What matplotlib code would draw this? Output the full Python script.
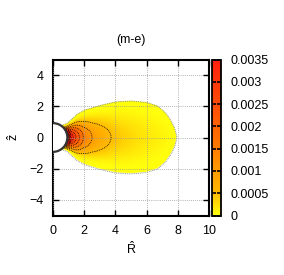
import numpy as np
import matplotlib
matplotlib.use("Agg")
import matplotlib.pyplot as plt
from matplotlib.colors import LinearSegmentedColormap
from matplotlib.patches import Circle

plt.rcParams['font.family'] = ['Liberation Sans', 'DejaVu Sans']
plt.rcParams['mathtext.fontset'] = 'custom'
plt.rcParams['mathtext.rm'] = 'Liberation Sans'
plt.rcParams['mathtext.it'] = 'Liberation Sans'

title = "(m-e)"
xticks = [0, 2, 4, 6, 8, 10]
yticks = [-4, -2, 0, 2, 4]
cbar_ticks = [0, 0.0005, 0.001, 0.0015, 0.002, 0.0025, 0.003, 0.0035]
cbar_labels = ["0", "0.0005", "0.001", "0.0015", "0.002", "0.0025", "0.003", "0.0035"]
contour_levels = [0.0005, 0.001, 0.0015, 0.002, 0.0025, 0.003, 0.0035,
                  0.004, 0.0045, 0.005, 0.0055, 0.006]

# Outer boundary of the distribution: half-height vs R
bound_R = [0.5, 0.9, 1.5, 2.0, 3.0, 4.0, 5.0, 6.0, 6.7, 7.2, 7.55, 7.8, 7.95]
bound_h = [0.75, 0.9, 1.45, 1.75, 2.05, 2.28, 2.34, 2.25, 2.02, 1.6, 1.1, 0.6, 0.0]

eq_R = [0.5, 0.92, 1.0, 1.15, 1.3, 1.47, 1.69, 1.94, 2.5, 3.0, 3.72, 4.5, 5.5, 6.5, 7.3, 7.95]
eq_f = [0.008, 0.0065, 0.0052, 0.0035, 0.003, 0.0025, 0.002, 0.0015, 0.001,
        0.00075, 0.0005, 0.00035, 0.00022, 0.00013, 0.00006, 0.0]
vertical_power = 2.5
hole_radius = 0.92

FS = 9
W, H = 284, 275
fig = plt.figure(figsize=(W / 100, H / 100), dpi=100)
ax = fig.add_axes([53 / W, 59.5 / H, 156 / W, 156 / H])

R = np.linspace(0, 10, 500)
Z = np.linspace(-5, 5, 500)
RR, ZZ = np.meshgrid(R, Z)
h = np.interp(RR, bound_R, bound_h, left=bound_h[0], right=0.0)
f0 = np.interp(RR, eq_R, eq_f, left=eq_f[0], right=0.0)
with np.errstate(divide='ignore', invalid='ignore'):
    q = np.clip(1 - (ZZ / np.where(h > 0, h, 1e-9)) ** 2, 0, None)
F = f0 * q ** vertical_power
inside = (np.abs(ZZ) < h) & (RR < bound_R[-1])
Fm = np.ma.masked_where(~inside, F)

cmap = LinearSegmentedColormap.from_list(
    "yr", [(0.0, (1.0, 1.0, 0.05)), (0.15, (1.0, 0.72, 0.0)),
           (0.5, (1.0, 0.43, 0.0)), (1.0, (1.0, 0.12, 0.06))])
cmap.set_bad((1, 1, 1, 0))

im = ax.imshow(Fm, extent=[0, 10, -5, 5], origin='lower', cmap=cmap,
               vmin=0, vmax=0.0035, interpolation='bilinear', aspect='auto')
ax.contour(RR, ZZ, np.where(inside, F, 0), levels=contour_levels, colors='black',
           linewidths=0.6, linestyles=[(0, (1, 1.2))])
bR = np.linspace(hole_radius * 0.6, bound_R[-1], 300)
bh = np.interp(bR, bound_R, bound_h)
ax.plot(np.r_[bR, bR[::-1]], np.r_[bh, -bh[::-1]], color='#777777', lw=0.6,
        ls=(0, (1, 1.2)))

ax.add_patch(Circle((0, 0), hole_radius, facecolor='white', edgecolor='#333333',
                    lw=1.6, zorder=5))

ax.set_xlim(0, 10)
ax.set_ylim(-5, 5)
ax.set_xticks(xticks)
ax.set_yticks(yticks)
ax.tick_params(direction='in', length=4, width=1, top=True, right=True,
               labelsize=FS, pad=7)
ax.grid(True, color='#999999', ls=(0, (1, 1.5)), lw=0.6)
ax.set_axisbelow(False)
for s in ax.spines.values():
    s.set_linewidth(1.5)
ax.set_title(title, fontsize=FS, pad=12)
ax.set_xlabel(r"$\hat{\mathrm{R}}$", fontsize=FS, labelpad=2)
ax.set_ylabel(r"$\hat{\mathrm{z}}$", fontsize=FS, labelpad=6)

cax = fig.add_axes([212 / W, 59.5 / H, 8.5 / W, 156 / H])
cb = fig.colorbar(im, cax=cax, ticks=cbar_ticks)
cb.ax.set_yticklabels(cbar_labels)
cb.ax.tick_params(direction='in', length=3, width=1.2, left=True, right=True,
                  labelsize=FS, pad=7, color='black')
cb.outline.set_linewidth(1.3)

fig.savefig("out.png", dpi=100)
